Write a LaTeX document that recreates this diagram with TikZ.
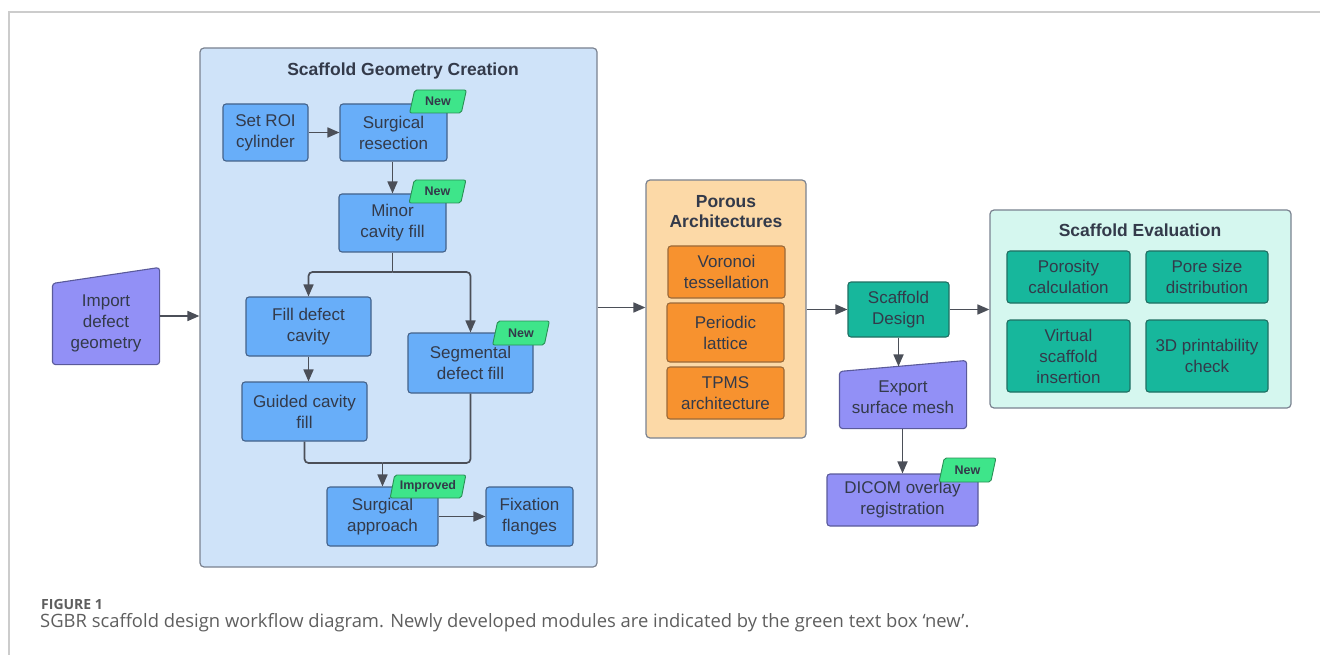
\documentclass[tikz,border=0pt]{standalone}
\usepackage{fontspec}
\setmainfont{Liberation Sans}
\newfontfamily\capfont{Open Sans}
\usetikzlibrary{shapes.geometric,arrows.meta,backgrounds}
\definecolor{txt}{HTML}{333A4A}
\definecolor{arrc}{HTML}{4B4F58}
\definecolor{framec}{HTML}{CCCCCC}
\definecolor{geobg}{HTML}{CFE3F9}
\definecolor{contbd}{HTML}{7A8290}
\definecolor{bluec}{HTML}{68AEF9}
\definecolor{bluebd}{HTML}{44628A}
\definecolor{tagc}{HTML}{3EE58A}
\definecolor{tagbd}{HTML}{2A8F55}
\definecolor{purpc}{HTML}{9290F6}
\definecolor{purpbd}{HTML}{5A5A9A}
\definecolor{orc}{HTML}{F7922F}
\definecolor{orbd}{HTML}{9A6A3A}
\definecolor{porbg}{HTML}{FCD9A7}
\definecolor{tealc}{HTML}{17B79C}
\definecolor{tealbd}{HTML}{1F6F62}
\definecolor{evalbg}{HTML}{D5F7EF}
\definecolor{capc}{HTML}{5E5E5E}
\begin{document}
\begin{tikzpicture}[x=1pt,y=-1pt,
  basebox/.style={rounded corners=3pt, line width=1.1pt, align=center, text=txt,
    font=\fontsize{17}{21}\selectfont, inner sep=0pt,
    execute at begin node={\rule{0pt}{15.5pt}}},
  bluebox/.style={basebox, draw=bluebd, fill=bluec},
  orbox/.style={basebox, draw=orbd, fill=orc},
  tealbox/.style={basebox, draw=tealbd, fill=tealc},
  purpbox/.style={basebox, draw=purpbd, fill=purpc},
  purptext/.style={basebox},
  purpshape/.style={rounded corners=3pt, line width=1.1pt, draw=purpbd, fill=purpc},
  container/.style={rounded corners=4pt, line width=1.2pt, draw=contbd, inner sep=0pt},
  ctitle/.style={align=center, text=txt, font=\bfseries\fontsize{17.5}{20}\selectfont, inner sep=0pt},
  tagbox/.style={trapezium, trapezium left angle=72, trapezium right angle=108,
    trapezium stretches=true, draw=tagbd, fill=tagc, rounded corners=2pt,
    line width=0.9pt, text=txt, font=\bfseries\fontsize{12.5}{14}\selectfont, inner sep=0pt},
  arr/.style={draw=arrc, line width=1.7pt, -{Triangle[length=12pt,width=10pt]}},
  lnk/.style={draw=arrc, line width=1.7pt},
  rounded corners=4pt
]
\useasboundingbox (0,0) rectangle (1320,655);
% frame
\draw[framec, line width=1.5pt, sharp corners] (1320,12) coordinate (fr1) -- (9,12) coordinate (fr2) -- (9,655) coordinate (fr3);

% containers
\node[container, fill=geobg, minimum width=397, minimum height=519] (geo) at (398.5,307.5) {};
\node[container, fill=porbg, minimum width=160, minimum height=258] (por) at (726,309) {};
\node[container, fill=evalbg, minimum width=301, minimum height=198] (eval) at (1140.5,309) {};
\node[ctitle] (geotitle) at (403,71) {Scaffold Geometry Creation};
\node[ctitle] (portitle) at (726,212) {Porous\\Architectures};
\node[ctitle] (evaltitle) at (1140,230) {Scaffold Evaluation};

% import (manual input)
\node[purptext, minimum width=106, minimum height=82] (imp) at (106,323) {Import\\defect\\geometry};
\begin{scope}[on background layer]
\draw[purpshape] (imp.south west) -- ([yshift=-2pt]imp.north west) -- ([yshift=14pt]imp.north east) -- (imp.south east) -- cycle;
\end{scope}

% geometry nodes
\node[bluebox, minimum width=85, minimum height=57] (roi) at (265.5,132.5) {Set ROI\\cylinder};
\node[bluebox, minimum width=107, minimum height=57] (res) at (393.5,132.5) {Surgical\\resection};
\node[bluebox, minimum width=107, minimum height=58] (minor) at (392.5,223) {Minor\\cavity fill};
\node[bluebox, minimum width=125, minimum height=59] (fill) at (308.5,326.5) {Fill defect\\cavity};
\node[bluebox, minimum width=125, minimum height=60] (seg) at (470.5,363) {Segmental\\defect fill};
\node[bluebox, minimum width=125, minimum height=59] (guided) at (304.5,411.5) {Guided cavity\\fill};
\node[bluebox, minimum width=111, minimum height=59] (appr) at (382.5,516.5) {Surgical\\approach};
\node[bluebox, minimum width=87, minimum height=59] (flange) at (529.5,516.5) {Fixation\\flanges};

\node[tagbox, minimum width=57, minimum height=23] (tres) at (438,101.5) {New};
\node[tagbox, minimum width=57, minimum height=23] (tminor) at (437.5,191.5) {New};
\node[tagbox, minimum width=57, minimum height=24] (tseg) at (521,333) {New};
\node[tagbox, minimum width=76, minimum height=23] (tappr) at (428,486.5) {Improved};

% porous nodes
\node[orbox, minimum width=117, minimum height=52] (vor) at (726.5,272) {Voronoi\\tessellation};
\node[orbox, minimum width=117, minimum height=59] (per) at (725.5,332.5) {Periodic\\lattice};
\node[orbox, minimum width=117, minimum height=52] (tpms) at (725.5,393) {TPMS\\architecture};

% design and export
\node[tealbox, minimum width=101, minimum height=55] (design) at (898.5,309.5) {Scaffold\\Design};
\node[purptext, minimum width=126, minimum height=61] (exp) at (903,397.5) {Export\\surface mesh};
\begin{scope}[on background layer]
\draw[purpshape] (exp.south west) -- ([yshift=-5pt]exp.north west) -- ([yshift=6pt]exp.north east) -- (exp.south east) -- cycle;
\end{scope}
\node[purpbox, minimum width=151, minimum height=52] (dicom) at (902.5,500) {DICOM overlay\\registration};
\node[tagbox, minimum width=57, minimum height=24] (tdicom) at (967.5,470) {New};

% evaluation nodes
\node[tealbox, minimum width=123, minimum height=52] (poro) at (1068.5,277) {Porosity\\calculation};
\node[tealbox, minimum width=122, minimum height=52] (pore) at (1207,277) {Pore size\\distribution};
\node[tealbox, minimum width=123, minimum height=72] (virt) at (1068.5,356) {Virtual\\scaffold\\insertion};
\node[tealbox, minimum width=122, minimum height=72] (print) at (1207,356) {3D printability\\check};

% connectors
\draw[arr] ([yshift=7pt]imp.east) -- ([yshift=7pt]imp.east -| geo.west);
\draw[arr] (roi) -- (res);
\draw[arr] (res.south -| minor.north) -- (minor.north);
\coordinate (j1) at (392.5,272);
\draw[lnk] (minor.south) -- (j1);
\draw[arr] (j1) -| (fill.north);
\draw[arr] (j1) -| (seg.north);
\draw[arr] (fill.south) -- (fill.south |- guided.north);
\coordinate (j2) at (382.5,463);
\draw[lnk] (guided.south) |- (j2);
\draw[lnk] (seg.south) |- (j2);
\draw[arr] (j2) -- (appr.north);
\draw[arr] (appr) -- (flange);
\draw[arr] (geo.east) -- (geo.east -| por.west);
\draw[arr] (por.east |- design.west) -- (design.west);
\draw[arr] (design.east) -- (design.east -| eval.west);
\draw[arr] (design.south) -- (design.south |- exp.north);
\draw[arr] (exp.south -| dicom.north) -- (dicom.north);

% caption
\node[anchor=west, inner sep=0pt, text=capc, font=\capfont\bfseries\fontsize{14}{16}\selectfont] (figlab) at (41,604) {FIGURE 1};
\node[anchor=west, inner sep=0pt, text=capc, font=\capfont\fontsize{18.4}{21}\selectfont] (cap) at (40,623) {SGBR scaffold design workflow diagram. Newly developed modules are indicated by the green text box ‘new’.};
\end{tikzpicture}
\end{document}
